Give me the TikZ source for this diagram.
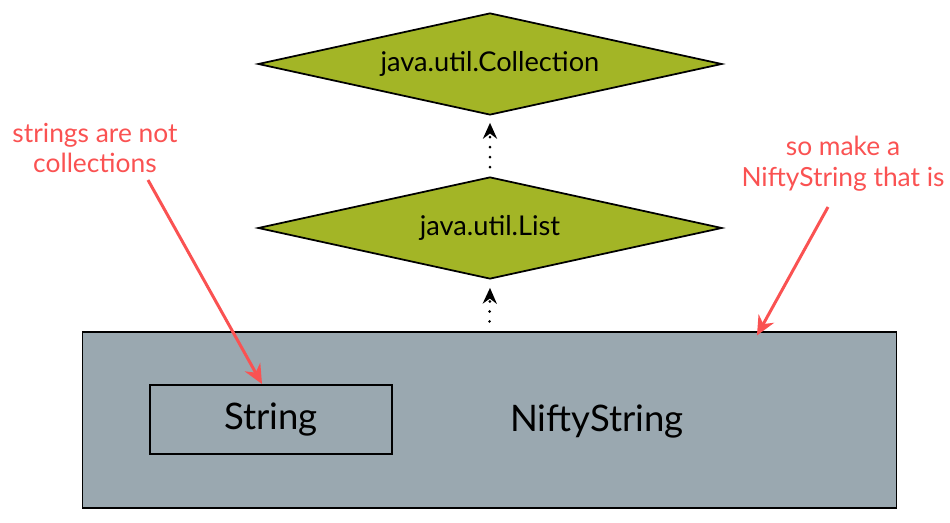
\documentclass[tikz,border=0pt]{standalone}
\usepackage{fontspec}
\setmainfont{Lato}
\usetikzlibrary{shapes.geometric,arrows.meta}

\definecolor{ifacegreen}{RGB}{163,181,38}
\definecolor{classgray}{RGB}{154,168,176}
\definecolor{noteRed}{RGB}{250,82,82}

\begin{document}
\begin{tikzpicture}[x=0.02cm,y=-0.02cm] % pixel grid, y downwards
    \tikzset{%
        >=Stealth, % arrow tips
        iface/.style={diamond,aspect=4.55,draw=black,line width=1pt,fill=ifacegreen,
                minimum width=9.28cm,minimum height=2.04cm,inner sep=0pt,
                font=\fontsize{15.5}{18}\selectfont},%
        implements/.style={line width=1.7pt,line cap=round,
                dash pattern=on 0pt off 5.7pt,
                -{Stealth[length=9pt,width=8pt,line cap=butt]}},%
        note/.style={text=noteRed,align=center,
                font=\fontsize{15}{17.6}\selectfont},%
        note arrow/.style={draw=noteRed,line width=1.7pt,
                -{Stealth[length=11pt,width=10pt]}}%
    }
    \useasboundingbox (0,0) rectangle (950,523);

    %% the classes

    \node[draw=black,line width=0.6pt,fill=classgray,minimum width=16.3cm,
        minimum height=3.52cm,inner sep=0pt] (nifty) at (489.5,420) {};
    \node[font=\fontsize{20.8}{24}\selectfont] (niftytext) at (597,422) {NiftyString};
    \node[draw=black,line width=1.1pt,minimum width=4.84cm,minimum height=1.38cm,
        font=\fontsize{20.8}{24}\selectfont] (string) at (271,419.5) {String};

    %% the interfaces

    \node[iface] (list) at (490,228) {\raisebox{-0.08cm}{java.util.List}};
    \node[iface] (coll) at (490,64) {\raisebox{-0.08cm}{java.util.Collection}};

    \draw[implements] ([yshift=0.2cm]nifty.north) -- ([yshift=-0.16cm]list.south);
    \draw[implements] ([yshift=0.18cm]list.north) -- ([yshift=-0.14cm]coll.south);

    %% the notes

    \node[note] (notcoll) at (95,148) {strings are not\\collections};
    \node[note] (makeone) at (843,164) {so make a\\NiftyString that is};
    \coordinate (notcollend) at (148,180);
    \coordinate (makeoneend) at (828,207);

    \draw[note arrow] (notcollend) -- ([xshift=-0.18cm]string.north);
    \draw[note arrow] (makeoneend) -- ([xshift=5.35cm,yshift=-0.08cm]nifty.north);
\end{tikzpicture}
\end{document}
